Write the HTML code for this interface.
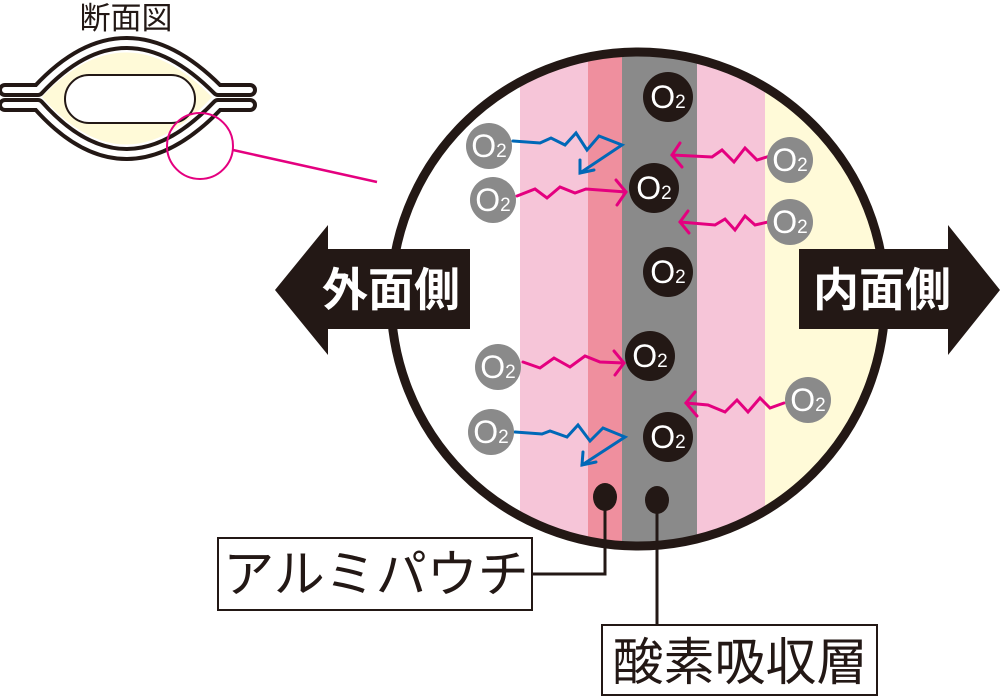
<!DOCTYPE html>
<html><head><meta charset="utf-8"><style>
html,body{margin:0;padding:0;background:#fff;}
svg{display:block;}
text{font-family:"Liberation Sans","Noto Sans CJK JP",sans-serif;}
</style></head><body>
<svg width="1000" height="698" viewBox="0 0 1000 698" xmlns="http://www.w3.org/2000/svg">
<defs>
<clipPath id="c"><circle cx="638" cy="299" r="247"/></clipPath>
</defs>
<!-- cross-section -->
<text x="126" y="29" font-size="31" text-anchor="middle" fill="#231815">断面図</text>
<path d="M42,97 Q125,8 212,97 Q125,192 42,97Z" fill="#fffad8"/>
<path d="M5,90 L38,90 Q125,-4 218,90 L250,90" fill="none" stroke="#231815" stroke-width="14" stroke-linecap="round" stroke-linejoin="round"/>
<path d="M5,90 L38,90 Q125,-4 218,90 L250,90" fill="none" stroke="#fff" stroke-width="6" stroke-linecap="round" stroke-linejoin="round"/>
<path d="M5,105 L38,105 Q125,203 218,105 L250,105" fill="none" stroke="#231815" stroke-width="14" stroke-linecap="round" stroke-linejoin="round"/>
<path d="M5,105 L38,105 Q125,203 218,105 L250,105" fill="none" stroke="#fff" stroke-width="6" stroke-linecap="round" stroke-linejoin="round"/>
<rect x="65" y="75" width="130" height="48" rx="24" fill="#fff" stroke="#231815" stroke-width="2"/>
<circle cx="200" cy="146" r="33" fill="none" stroke="#e4007f" stroke-width="2"/>
<line x1="233" y1="150" x2="377" y2="182" stroke="#e4007f" stroke-width="2.5"/>
<!-- big circle -->
<g clip-path="url(#c)">
<rect x="380" y="40" width="520" height="520" fill="#fff"/>
<rect x="520" y="40" width="68" height="520" fill="#f6c5d8"/>
<rect x="588" y="40" width="34" height="520" fill="#ef8f9e"/>
<rect x="622" y="40" width="75" height="520" fill="#8a8a8a"/>
<rect x="697" y="40" width="68" height="520" fill="#f6c5d8"/>
<rect x="765" y="40" width="130" height="520" fill="#fffad8"/>
</g>
<circle cx="638" cy="299" r="247" fill="none" stroke="#231815" stroke-width="9"/>
<!-- arrows -->
<polygon points="275,290 328,225 328,249 470,249 470,329 328,329 328,355" fill="#231815"/>
<polygon points="1000,290 948,225 948,249 799,249 799,329 948,329 948,355" fill="#231815"/>
<text x="391" y="306" font-size="46" font-weight="bold" fill="#fff" text-anchor="middle">外面側</text>
<text x="882" y="306" font-size="46" font-weight="bold" fill="#fff" text-anchor="middle">内面側</text>
<!-- zigzags -->
<g fill="none" stroke-width="3" stroke-linejoin="miter" stroke-linecap="round">
<polyline stroke="#0068b7" points="513,141 540,143 551,138 565,145 576,133 587,150 599,136 622,145 580,173"/>
<polyline stroke="#0068b7" points="580,160 580,173 594,170"/>
<polyline stroke="#e4007f" points="517,196 535,189 547,198 560,187 575,193 586,189 626,192"/>
<polyline stroke="#e4007f" points="616,180 626,192 617,205"/>
<polyline stroke="#e4007f" points="770,156 757,160 745,148 734,162 722,150 712,157 672,155"/>
<polyline stroke="#e4007f" points="680,143 672,155 682,167"/>
<polyline stroke="#e4007f" points="768,222 755,225 745,216 735,230 725,219 715,225 680,222"/>
<polyline stroke="#e4007f" points="688,211 680,222 689,233"/>
<polyline stroke="#e4007f" points="523,362 540,368 554,358 570,367 585,356 600,362 624,363"/>
<polyline stroke="#e4007f" points="614,351 624,363 615,375"/>
<polyline stroke="#e4007f" points="784,403 770,408 760,398 748,412 737,400 725,412 708,405 686,403"/>
<polyline stroke="#e4007f" points="695,392 686,403 697,416"/>
<polyline stroke="#0068b7" points="515,432 542,434 550,431 567,437 578,425 590,441 603,428 625,437 582,465"/>
<polyline stroke="#0068b7" points="583,452 582,465 596,462"/>
</g>
<!-- O2 molecules -->
<g fill="#8a8a8a">
<circle cx="489" cy="146" r="23"/><circle cx="493" cy="200" r="23"/>
<circle cx="498" cy="367" r="23"/><circle cx="491" cy="432" r="23"/>
<circle cx="790" cy="160" r="23"/><circle cx="790" cy="222" r="23"/>
<circle cx="808" cy="400" r="23"/>
</g>
<g fill="#231815">
<circle cx="668" cy="97" r="25"/><circle cx="654" cy="188" r="25"/>
<circle cx="668" cy="272" r="25"/><circle cx="650" cy="356" r="25"/>
<circle cx="668" cy="437" r="25"/>
</g>
<g fill="#fff" font-size="32" text-anchor="middle">
<text x="489" y="157">O<tspan font-size="19">2</tspan></text>
<text x="493" y="211">O<tspan font-size="19">2</tspan></text>
<text x="498" y="378">O<tspan font-size="19">2</tspan></text>
<text x="491" y="443">O<tspan font-size="19">2</tspan></text>
<text x="790" y="171">O<tspan font-size="19">2</tspan></text>
<text x="790" y="233">O<tspan font-size="19">2</tspan></text>
<text x="808" y="411">O<tspan font-size="19">2</tspan></text>
<text x="668" y="108">O<tspan font-size="19">2</tspan></text>
<text x="654" y="199">O<tspan font-size="19">2</tspan></text>
<text x="668" y="283">O<tspan font-size="19">2</tspan></text>
<text x="650" y="367">O<tspan font-size="19">2</tspan></text>
<text x="668" y="448">O<tspan font-size="19">2</tspan></text>
</g>
<!-- callouts -->
<ellipse cx="605" cy="497" rx="12" ry="14" fill="#231815"/>
<ellipse cx="657" cy="500" rx="12" ry="14" fill="#231815"/>
<polyline points="605,500 605,574 532,574" fill="none" stroke="#231815" stroke-width="3"/>
<line x1="657" y1="500" x2="657" y2="624" stroke="#231815" stroke-width="3"/>
<rect x="218" y="538" width="314" height="72" fill="#fff" stroke="#231815" stroke-width="2"/>
<text x="376" y="592" font-size="51" text-anchor="middle" fill="#231815">アルミパウチ</text>
<rect x="602" y="625" width="275" height="70" fill="#fff" stroke="#231815" stroke-width="2"/>
<text x="740" y="680" font-size="51" text-anchor="middle" fill="#231815">酸素吸収層</text>
</svg>
</body></html>
